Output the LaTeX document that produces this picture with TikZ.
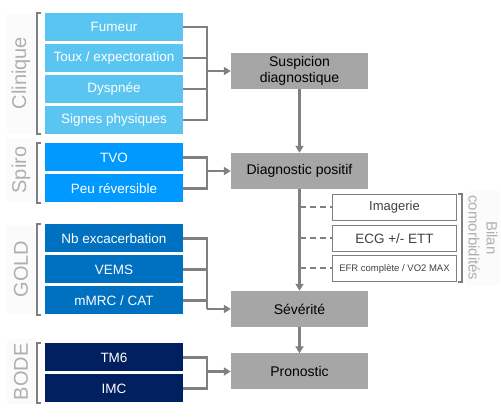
\documentclass[tikz,border=0pt]{standalone}
\usepackage{fontspec}
\setmainfont{Liberation Sans}
\usetikzlibrary{arrows.meta,positioning}
\definecolor{clinblue}{RGB}{91,197,242}
\definecolor{spiroblue}{RGB}{0,153,255}
\definecolor{goldblue}{RGB}{0,112,192}
\definecolor{bodeblue}{RGB}{0,32,96}
\definecolor{stagegray}{RGB}{166,166,166}
\definecolor{linegray}{RGB}{128,128,128}
\definecolor{labelgray}{RGB}{175,175,175}
\definecolor{labelbg}{RGB}{251,251,251}

\begin{document}
\begin{tikzpicture}[x=1pt, y=-1pt,
    item/.style={rectangle, minimum width=138pt, minimum height=28pt, inner sep=0pt, text=white, font=\fontsize{13.5}{15}\selectfont},
    stage/.style={rectangle, fill=stagegray, minimum width=137pt, minimum height=36pt, inner sep=0pt, align=center, font=\fontsize{14}{16}\selectfont},
    extra/.style={rectangle, draw=linegray, line width=1.5pt, fill=white, minimum width=124pt, minimum height=26pt, inner sep=0pt, text=black!75},
    side/.style={fill=labelbg, text=labelgray, minimum height=28pt, inner sep=0pt, font=\fontsize{20}{22}\selectfont},
    line/.style={draw=linegray, line width=2.5pt},
    arrow/.style={line, -{Triangle[length=7pt,width=8pt]}},
    bracket/.style={draw=linegray, line width=2pt},
    dashline/.style={draw=linegray, line width=2pt, dash pattern=on 6pt off 4pt}
]
\useasboundingbox (0,0) rectangle (501,419);

% Group labels
\node[side, rotate=90, minimum width=120pt] (lclin) at (21,73) {Clinique};
\node[side, rotate=90, minimum width=64pt] (lspiro) at (21,170) {Spiro};
\node[side, rotate=90, minimum width=88pt] (lgold) at (21,269) {GOLD};
\node[side, rotate=90, minimum width=65pt] (lbode) at (21,372) {BODE};

% Clinique
\node[item, fill=clinblue] (fumeur) at (114,27) {Fumeur};
\node[item, fill=clinblue] (toux) at (114,58) {Toux / expectoration};
\node[item, fill=clinblue] (dyspnee) at (114,89) {Dyspnée};
\node[item, fill=clinblue] (signes) at (114,120) {Signes physiques};

% Spiro
\node[item, fill=spiroblue] (tvo) at (114,157.5) {TVO};
\node[item, fill=spiroblue] (reversible) at (114,188.5) {Peu réversible};

% GOLD
\node[item, fill=goldblue] (exacerb) at (114,238.5) {Nb excacerbation};
\node[item, fill=goldblue] (vems) at (114,269.5) {VEMS};
\node[item, fill=goldblue] (mmrc) at (114,300.5) {mMRC / CAT};

% BODE
\node[item, fill=bodeblue] (tm6) at (114,357.5) {TM6};
\node[item, fill=bodeblue] (imc) at (114,388.5) {IMC};

% Brackets
\draw[bracket] ([xshift=-4pt]fumeur.north west) -- ++(-4,0) |- ([xshift=-4pt]signes.south west);
\draw[bracket] ([xshift=-4pt]tvo.north west) -- ++(-4,0) |- ([xshift=-4pt]reversible.south west);
\draw[bracket] ([xshift=-4pt]exacerb.north west) -- ++(-4,0) |- ([xshift=-4pt]mmrc.south west);
\draw[bracket] ([xshift=-4pt]tm6.north west) -- ++(-4,0) |- ([xshift=-4pt]imc.south west);

% Stages
\node[stage] (suspicion) at (299.5,71) {Suspicion\\diagnostique};
\node[stage] (diagnostic) at (299.5,171) {Diagnostic positif};
\node[stage] (severite) at (299.5,309) {Sévérité};
\node[stage] (pronostic) at (299.5,371.5) {Pronostic};

% Bilan comorbidites
\node[extra, font=\fontsize{13}{15}\selectfont] (imagerie) at (394.5,207.5) {Imagerie};
\node[extra, font=\fontsize{13.5}{15}\selectfont] (ecg) at (394.5,238.5) {ECG +/- ETT};
\node[extra, font=\fontsize{9.5}{11}\selectfont] (efr) at (394.5,268.5) {EFR complète / VO2 MAX};
\draw[bracket] ([xshift=1pt]imagerie.north east) -- ++(4,0) |- ([xshift=1pt]efr.south east);
\node[side, rotate=-90, minimum width=94pt, minimum height=34pt, align=center, font=\fontsize{15}{18}\selectfont] (lbilan) at (483,238) {Bilan\\comorbidités};

% Junctions
\coordinate (jclin) at (207,71);
\coordinate (jspiro) at (207,171);
\coordinate (jgold) at (207,309);
\coordinate (jbode) at (207,371.5);

% Connectors
\foreach \b in {fumeur,toux,dyspnee,signes}
    \draw[line] (\b.east) -| (jclin);
\foreach \b in {tvo,reversible}
    \draw[line] (\b.east) -| (jspiro);
\foreach \b in {exacerb,vems,mmrc}
    \draw[line] (\b.east) -| (jgold);
\foreach \b in {tm6,imc}
    \draw[line] (\b.east) -| (jbode);

\draw[arrow] (jclin) -- (suspicion.west);
\draw[arrow] (jspiro) -- (diagnostic.west);
\draw[arrow] (jgold) -- (severite.west);
\draw[arrow] (jbode) -- (pronostic.west);

\draw[arrow] (suspicion) -- (diagnostic);
\draw[arrow] (diagnostic) -- (severite);
\draw[arrow] (severite) -- (pronostic);

\foreach \b in {imagerie,ecg,efr}
    \draw[dashline] (\b.west -| diagnostic.south) -- (\b.west);

\end{tikzpicture}
\end{document}
